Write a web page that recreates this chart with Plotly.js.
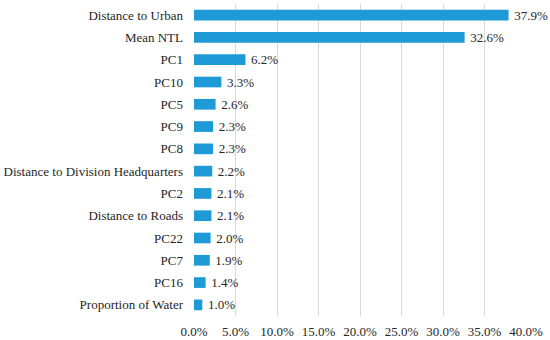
<!DOCTYPE html>
<html>
<head>
<meta charset="utf-8">
<script src="https://cdn.plot.ly/plotly-3.0.1.min.js"></script>
<style>html,body{margin:0;padding:0;background:#fff;}#chart{width:550px;height:340px;}</style>
</head>
<body>
<div id="chart"></div>
<script>
const categories = ["Distance to Urban","Mean NTL","PC1","PC10","PC5","PC9","PC8","Distance to Division Headquarters","PC2","Distance to Roads","PC22","PC7","PC16","Proportion of Water"];
const values = [37.9,32.6,6.2,3.3,2.6,2.3,2.3,2.2,2.1,2.1,2.0,1.9,1.4,1.0];
const tickVals = [0,5,10,15,20,25,30,35,40];

const FONT = 'Liberation Serif';

const trace = {
  type: 'bar',
  orientation: 'h',
  y: categories,
  x: values,
  marker: {color: 'rgb(30,155,215)'},
  text: values.map(v => '\u2009' + v.toFixed(1) + '%'),
  textposition: 'outside',
  textfont: {family: FONT, size: 13, color: '#262626'},
  cliponaxis: false,
  constraintext: 'none',
  hoverinfo: 'none'
};

const layout = {
  width: 550, height: 340,
  margin: {l: 194, r: 24, t: 4, b: 24},
  paper_bgcolor: '#fff', plot_bgcolor: '#fff',
  bargap: 0.52,
  showlegend: false,
  font: {family: FONT, size: 13, color: '#262626'},
  xaxis: {
    range: [0, 40],
    tickvals: tickVals,
    ticktext: tickVals.map(v => v.toFixed(1) + '%'),
    showgrid: true, gridcolor: '#d9d9d9', gridwidth: 1,
    zeroline: false, showline: false, ticks: '',
    ticklabelstandoff: 6,
    tickfont: {family: FONT, size: 13, color: '#262626'}
  },
  yaxis: {
    autorange: 'reversed',
    type: 'category',
    showgrid: false, zeroline: false, showline: false, ticks: '',
    ticklen: 0, ticklabelstandoff: 10,
    tickfont: {family: FONT, size: 13, color: '#262626'}
  }
};

Plotly.newPlot('chart', [trace], layout, {displayModeBar: false, staticPlot: true});
</script>
</body>
</html>
